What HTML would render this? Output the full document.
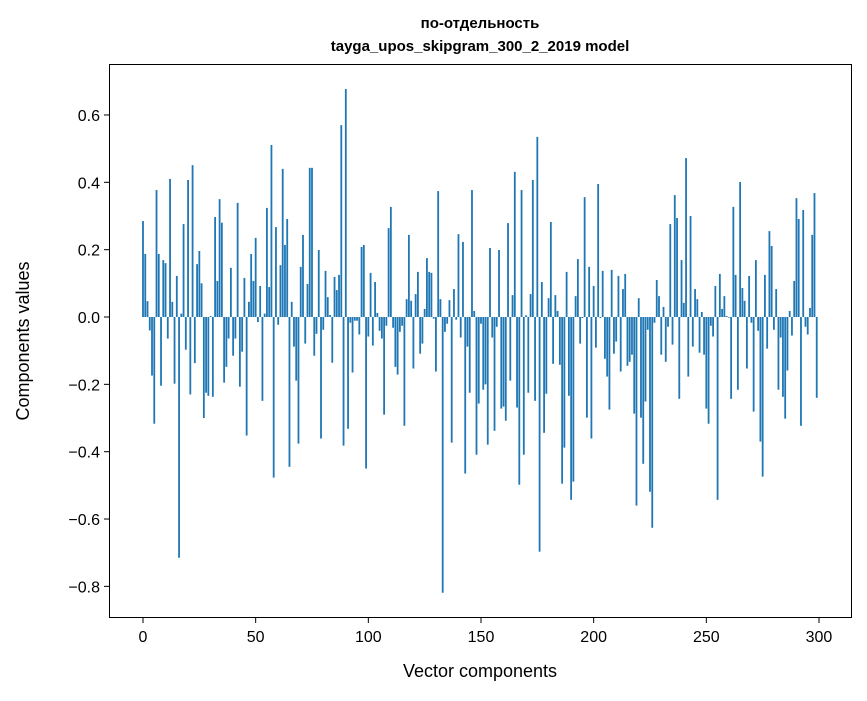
<!DOCTYPE html>
<html><head><meta charset="utf-8"><style>
html,body{margin:0;padding:0;background:#fff;}
svg text{font-family:"Liberation Sans","DejaVu Sans",sans-serif;fill:#000;}
</style></head><body>
<svg id="chart" width="867" height="696" viewBox="0 0 867 696" xmlns="http://www.w3.org/2000/svg">
<rect x="0" y="0" width="867" height="696" fill="#fff"/>
<text x="480" y="28" text-anchor="middle" font-size="15" font-weight="bold">по-отдельность</text>
<text x="480" y="51" text-anchor="middle" font-size="15" font-weight="bold">tayga_upos_skipgram_300_2_2019 model</text>
<g id="bars"></g>
<rect x="109.5" y="64.5" width="742" height="553" fill="none" stroke="#000" stroke-width="1"/>
<g id="xticks"></g>
<g id="yticks"></g>
<text x="480" y="677" text-anchor="middle" font-size="18">Vector components</text>
<text transform="translate(29,341) rotate(-90)" text-anchor="middle" font-size="18">Components values</text>
</svg>
<script>
const values = [0.285,0.187,0.047,-0.04,-0.174,-0.317,0.377,0.187,-0.204,0.169,0.16,-0.064,0.41,0.045,-0.198,0.122,-0.715,0.01,0.276,-0.097,0.407,-0.23,0.451,-0.137,0.157,0.196,0.1,-0.3,-0.225,-0.234,0.003,-0.237,0.297,0.107,0.35,0.28,-0.195,-0.148,-0.064,0.146,-0.115,-0.064,0.339,-0.207,-0.103,0.116,-0.352,0.045,0.187,0.107,0.235,
-0.015,0.092,-0.249,0.01,0.324,0.089,0.511,-0.477,0.267,-0.023,0.154,0.44,0.214,0.291,-0.445,0.045,-0.088,-0.189,-0.376,0.149,0.244,-0.079,0.098,0.443,0.443,-0.115,-0.05,0.199,-0.361,-0.038,0.137,0.059,0.006,-0.136,0.119,0.08,0.125,0.57,-0.382,0.677,-0.332,-0.017,-0.165,-0.011,-0.011,-0.052,0.208,0.214,-0.45,-0.058,
0.131,-0.085,0.104,0.012,-0.041,-0.064,-0.29,-0.026,0.264,0.327,-0.032,-0.148,-0.171,-0.044,-0.026,-0.323,0.053,0.244,0.048,-0.153,0.068,0.134,-0.109,-0.079,0.024,0.175,0.134,0.131,-0.005,-0.162,0.374,0.053,-0.819,-0.044,-0.02,0.05,-0.373,0.083,-0.008,0.246,-0.061,0.223,-0.465,-0.088,-0.225,0.377,0.018,-0.409,-0.257,-0.02,
-0.216,-0.2,-0.379,0.205,-0.061,-0.338,-0.029,0.199,-0.272,-0.266,-0.308,0.279,-0.189,0.065,0.431,-0.269,-0.498,0.377,-0.409,0.005,-0.225,0.068,0.407,-0.249,0.535,-0.697,0.104,-0.344,-0.228,0.056,0.282,-0.139,0.065,0.018,-0.142,-0.495,-0.388,0.134,-0.234,-0.543,-0.489,0.062,0.172,-0.079,-0.003,0.356,-0.299,0.149,-0.361,0.092,
-0.091,0.395,-0.003,0.137,-0.124,-0.177,-0.275,0.14,-0.109,-0.073,0.122,-0.162,0.083,0.128,-0.145,-0.133,-0.112,-0.287,-0.56,0.056,-0.299,-0.436,-0.251,-0.038,-0.519,-0.626,-0.017,0.11,0.062,-0.112,0.03,-0.133,-0.029,0.276,-0.082,0.362,0.294,-0.243,0.169,0.042,0.472,-0.177,0.3,-0.088,0.083,0.053,-0.106,0.015,-0.112,-0.272,
-0.317,-0.026,-0.058,0.092,-0.543,0.128,0.024,0.062,0.003,-0.002,-0.243,0.327,0.125,-0.216,0.401,0.086,0.048,-0.153,0.122,-0.017,-0.281,0.169,-0.041,-0.37,-0.474,0.125,-0.094,0.255,0.211,-0.038,0.083,-0.216,-0.061,-0.237,-0.302,-0.159,0.018,-0.055,0.107,0.353,0.291,-0.323,0.318,-0.029,-0.052,0.027,0.244,0.368,-0.24];
const xTicks = [0,50,100,150,200,250,300];
const yTicks = [0.6,0.4,0.2,0.0,-0.2,-0.4,-0.6,-0.8];
const yTickLabels = ["0.6","0.4","0.2","0.0","\u22120.2","\u22120.4","\u22120.6","\u22120.8"];

const NS = "http://www.w3.org/2000/svg";
function xs(v){ return 143 + (v) * 2.2533; }
function ys(v){ return 317 - v * 336.7; }

const gb = document.getElementById('bars');
values.forEach((v,i)=>{
  const r = document.createElementNS(NS,'rect');
  const y0 = ys(0), y1 = ys(v);
  r.setAttribute('x', xs(i - 0.4));
  r.setAttribute('width', 0.8 * 2.2533);
  r.setAttribute('y', Math.min(y0,y1));
  r.setAttribute('height', Math.abs(y1 - y0));
  r.setAttribute('fill', '#1f77b4');
  
  
  gb.appendChild(r);
});

const gx = document.getElementById('xticks');
xTicks.forEach(t=>{
  const x = xs(t);
  const l = document.createElementNS(NS,'line');
  l.setAttribute('x1',x); l.setAttribute('x2',x);
  l.setAttribute('y1',618); l.setAttribute('y2',623);
  l.setAttribute('stroke','#000');
  
  
  gx.appendChild(l);
  const tx = document.createElementNS(NS,'text');
  tx.setAttribute('x',x); tx.setAttribute('y',642);
  tx.setAttribute('text-anchor','middle'); tx.setAttribute('font-size','16');
  tx.textContent = String(t);
  
  
  gx.appendChild(tx);
});

const gy = document.getElementById('yticks');
yTicks.forEach((t,i)=>{
  const y = ys(t);
  const l = document.createElementNS(NS,'line');
  l.setAttribute('x1',104); l.setAttribute('x2',109);
  l.setAttribute('y1',y); l.setAttribute('y2',y);
  l.setAttribute('stroke','#000');
  
  
  gy.appendChild(l);
  const tx = document.createElementNS(NS,'text');
  tx.setAttribute('x',100); tx.setAttribute('y',y+6);
  tx.setAttribute('text-anchor','end'); tx.setAttribute('font-size','16');
  tx.textContent = yTickLabels[i];
  
  
  gy.appendChild(tx);
});
</script>
</body></html>
